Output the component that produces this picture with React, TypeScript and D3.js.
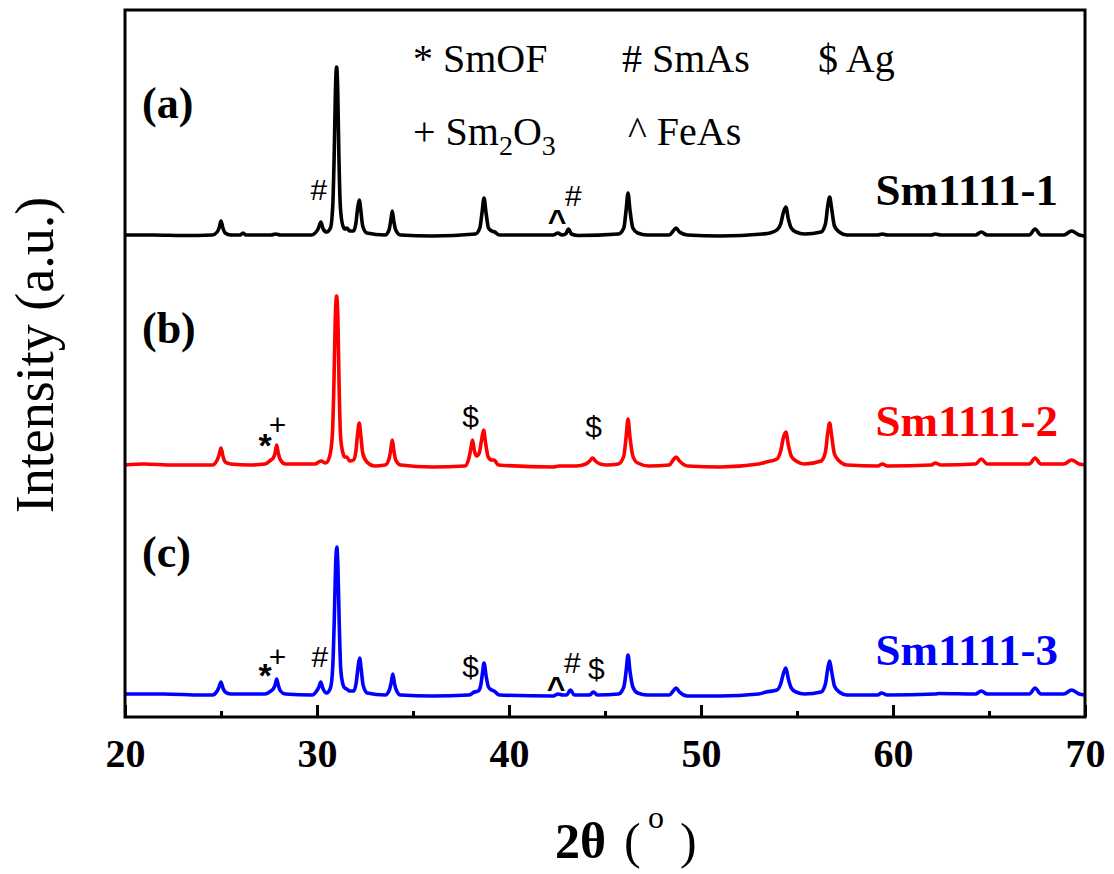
import React, { useEffect, useRef } from "react";
import * as d3 from "d3";

// ---- data (2θ in degrees, intensity above each pattern's own baseline, a.u.) ----
const seriesNames = ["Sm1111-1", "Sm1111-2", "Sm1111-3"];
const seriesColors = ["#000000", "#ff0000", "#0000ff"];
const panelLetters = ["(a)", "(b)", "(c)"];
const seriesOffsets = [481, 252, 22];

const seriesA: [number, number][] = [
  [20, 1], [21.5, 1], [23, 0.5], [24.55, 1], [24.8, 4], [24.9, 8], [25.0, 15], [25.1, 8], [25.22, 3], [25.5, 1],
  [26.0, 1], [26.15, 3], [26.3, 1], [27.6, 1], [27.85, 2], [28.1, 1], [29.7, 1],
  [29.95, 4], [30.08, 8], [30.2, 14], [30.32, 7], [30.5, 4], [30.7, 8], [30.82, 30], [30.9, 85], [30.96, 145],
  [31.02, 169], [31.08, 145], [31.14, 80], [31.22, 28], [31.35, 10], [31.45, 7], [31.55, 8], [31.7, 5],
  [31.9, 5], [32.02, 12], [32.12, 28], [32.2, 36], [32.28, 26], [32.38, 10], [32.6, 3], [33.55, 1], [33.75, 6], [33.84, 15],
  [33.92, 25], [34.0, 15], [34.1, 6], [34.35, 1], [36, 0], [38.25, 2], [38.48, 8], [38.6, 24], [38.7, 38], [38.8, 24],
  [38.93, 8], [39.1, 5], [39.25, 4], [39.5, 1], [42.3, 1], [42.55, 3], [42.75, 1], [42.95, 2],
  [43.1, 7], [43.25, 2], [43.6, 0.5], [45.7, 2], [45.98, 8], [46.1, 26], [46.2, 43], [46.3, 26],
  [46.45, 8], [46.7, 3], [47.2, 1], [48.35, 1], [48.55, 5], [48.7, 8], [48.88, 4], [49.3, 1],
  [51, 0], [53.2, 2], [53.6, 3], [53.95, 6], [54.15, 12], [54.3, 24], [54.42, 29], [54.55, 17], [54.7, 8], [54.95, 4],
  [55.4, 2], [56.25, 4], [56.48, 12], [56.6, 30], [56.7, 39], [56.8, 28], [56.95, 10], [57.2, 4], [57.6, 1],
  [59.2, 1], [59.45, 2], [59.7, 1], [62.0, 1], [62.2, 2], [62.5, 1], [64.3, 1], [64.6, 4],
  [64.9, 1], [67.1, 1], [67.4, 7], [67.7, 1], [68.9, 1], [69.3, 5], [69.7, 1], [70, 0],
];

const seriesB: [number, number][] = [
  [20, 0], [21, 1], [22.5, 0], [24.55, 0], [24.8, 5], [24.9, 10], [25.0, 17], [25.1, 9], [25.22, 3], [25.5, 1],
  [26.5, 0], [27.3, 1], [27.6, 5], [27.72, 7], [27.82, 12], [27.9, 20], [27.98, 12], [28.1, 5], [28.35, 1],
  [29.9, 1], [30.2, 4], [30.45, 2], [30.65, 8], [30.8, 30], [30.88, 80], [30.95, 145], [31.02, 169],
  [31.09, 145], [31.15, 80], [31.23, 28], [31.35, 12], [31.45, 8], [31.55, 8], [31.7, 4], [31.9, 5],
  [32.02, 13], [32.12, 32], [32.2, 42], [32.28, 30], [32.38, 12], [32.6, 3], [33.0, -1], [33.55, 0], [33.75, 6], [33.84, 15],
  [33.92, 25], [34.0, 15], [34.1, 5], [34.35, 0], [36, -2], [37.7, -1], [37.9, 6], [38.0, 15], [38.1, 25],
  [38.2, 14], [38.32, 9], [38.45, 12], [38.58, 26], [38.68, 35], [38.78, 22], [38.92, 8], [39.1, 5], [39.22, 5],
  [39.45, 0], [42.3, -2], [42.6, -1], [43.5, -1], [44.0, 1], [44.2, 4], [44.35, 7], [44.5, 4], [44.75, 1],
  [45.1, 0], [45.7, 1], [45.98, 9], [46.1, 28], [46.2, 46], [46.3, 28], [46.45, 9], [46.7, 2], [47.3, -1],
  [48.35, 0], [48.55, 5], [48.7, 8], [48.88, 4], [49.3, -1], [51, -2], [53.0, 1], [53.4, 3],
  [53.95, 6], [54.15, 14], [54.3, 28], [54.42, 33], [54.55, 20], [54.7, 9], [54.95, 4], [55.4, 1], [56.25, 4],
  [56.48, 13], [56.6, 32], [56.7, 42], [56.8, 30], [56.95, 11], [57.2, 4], [57.6, 0], [59.2, -1], [59.45, 1],
  [59.7, -1], [62.0, 0], [62.2, 2], [62.5, 0], [64.3, 1], [64.6, 6], [64.9, 1], [67.1, 1],
  [67.4, 7], [67.7, 1], [68.9, 1], [69.3, 5], [69.7, 1], [70, 0],
];

const seriesC: [number, number][] = [
  [20, 1], [22, 1], [24, 0], [24.55, 0], [24.8, 4], [24.9, 8], [25.0, 13], [25.1, 7], [25.22, 3], [25.5, 1],
  [26.2, 1], [27.3, 1], [27.6, 4], [27.72, 6], [27.82, 10], [27.9, 16], [27.98, 10], [28.1, 4], [28.35, 1],
  [29.75, 0], [29.98, 4], [30.1, 8], [30.2, 13], [30.3, 7], [30.5, 2], [30.7, 7], [30.82, 28], [30.9, 75],
  [30.97, 130], [31.03, 148], [31.09, 128], [31.16, 70], [31.24, 25], [31.36, 10], [31.45, 7], [31.55, 6],
  [31.7, 4], [31.92, 4], [32.04, 12], [32.14, 28], [32.22, 37], [32.3, 26], [32.4, 10], [32.62, 2], [33.55, 0],
  [33.77, 5], [33.87, 13], [33.95, 21], [34.03, 12], [34.13, 5], [34.35, 0], [36, -1], [37.9, 0], [38.2, 3], [38.4, 4],
  [38.52, 9], [38.62, 22], [38.7, 32], [38.8, 20], [38.93, 8], [39.1, 5], [39.22, 4], [39.5, 0], [42.3, -1],
  [42.55, 1], [42.8, 0], [43.0, 0], [43.2, 5], [43.4, 0], [44.2, 0], [44.4, 3], [44.6, 0],
  [45.7, 1], [45.98, 8], [46.1, 24], [46.2, 40], [46.3, 24], [46.45, 8], [46.7, 2], [47.2, 0], [48.35, 0],
  [48.55, 4], [48.7, 7], [48.88, 3], [49.3, -1], [51, -1], [53.0, 1], [53.4, 3], [53.95, 5],
  [54.15, 11], [54.3, 22], [54.42, 27], [54.55, 16], [54.7, 7], [54.95, 3], [55.4, 1], [56.25, 3], [56.48, 11],
  [56.6, 26], [56.7, 34], [56.8, 24], [56.95, 9], [57.2, 3], [57.6, 0], [59.2, 0], [59.4, 2], [59.7, 0],
  [62.2, 1], [62.4, 1.5], [64.3, 1], [64.6, 4], [64.9, 1], [67.1, 1], [67.4, 7], [67.7, 1],
  [68.9, 1], [69.3, 5], [69.7, 1], [70, 0],
];

const allSeries = [seriesA, seriesB, seriesC];

// phase markers: [series index, 2θ, level above baseline, symbol]
const markerSeries = [0, 0, 0, 1, 1, 1, 1, 2, 2, 2, 2, 2, 2, 2];
const markerTheta = [30.1, 42.5, 43.35, 27.3, 27.95, 38.0, 44.4, 27.3, 27.95, 30.15, 38.0, 42.45, 43.3, 44.55];
const markerLevel = [36, 4, 30, 8, 30, 38, 28, 8, 28, 28, 18, -4, 22, 16];
const markerSymbols = ["#", "^", "#", "*", "+", "$", "$", "*", "+", "#", "$", "^", "#", "$"];

const majorTicks = [20, 30, 40, 50, 60, 70];
const minorTicks = [25, 35, 45, 55, 65];

const W = 1114;
const H = 874;
const M = { left: 125, right: 1085, top: 10, bottom: 717 };

const SERIF = "'Liberation Serif', 'Times New Roman', Times, serif";
const SANS = "'Liberation Sans', Arial, Helvetica, sans-serif";

export default function App() {
  const axisRef = useRef<SVGGElement>(null);
  const minorRef = useRef<SVGGElement>(null);

  const x = d3.scaleLinear().domain([20, 70]).range([M.left, M.right]);
  const y = d3.scaleLinear().domain([0, 707]).range([M.bottom, M.top]);

  useEffect(() => {
    if (axisRef.current) {
      const g = d3.select(axisRef.current);
      g.call(
        d3.axisBottom(x).tickValues(majorTicks).tickSize(-12).tickPadding(22).tickFormat(d3.format("d")) as any
      );
      g.attr("font-family", null).attr("font-size", null);
      g.select(".domain").remove();
      g.selectAll(".tick line").attr("stroke", "#000").attr("stroke-width", 3);
      g.selectAll(".tick text")
        .style("font-family", SERIF)
        .style("font-weight", "bold")
        .style("font-size", "40px")
        .attr("fill", "#000");
    }
    if (minorRef.current) {
      const g = d3.select(minorRef.current);
      g.call(d3.axisBottom(x).tickValues(minorTicks).tickSize(-6).tickFormat(() => "") as any);
      g.select(".domain").remove();
      g.selectAll(".tick line").attr("stroke", "#000").attr("stroke-width", 3);
    }
  }, []);

  const labelBaselines = [205, 436, 665];
  const panelBaselines = [118, 343, 567];

  return (
    <svg
      width={W}
      height={H}
      style={{ position: "absolute", left: 0, top: 0, background: "#fff" }}
    >
      <rect x={0} y={0} width={W} height={H} fill="#fff" />
      <defs>
        <clipPath id="plotclip">
          <rect x={M.left} y={M.top} width={M.right - M.left} height={M.bottom - M.top} />
        </clipPath>
      </defs>
      <g clipPath="url(#plotclip)">
        {allSeries.map((s, i) => {
          const line = d3
            .line<[number, number]>()
            .x((d) => x(d[0]))
            .y((d) => y(d[1] + seriesOffsets[i]))
            .curve(d3.curveMonotoneX);
          return (
            <path
              key={i}
              d={line(s) || ""}
              fill="none"
              stroke={seriesColors[i]}
              strokeWidth={3.6}
              strokeLinejoin="round"
            />
          );
        })}
      </g>

      {/* frame */}
      <rect
        x={M.left}
        y={M.top}
        width={M.right - M.left}
        height={M.bottom - M.top}
        fill="none"
        stroke="#000"
        strokeWidth={3}
      />
      <g ref={axisRef} transform={`translate(0,${M.bottom})`} />
      <g ref={minorRef} transform={`translate(0,${M.bottom})`} />

      {/* markers */}
      {markerSymbols.map((sym, k) => {
        const si = markerSeries[k];
        const isCaret = sym === "^";
        const isStar = sym === "*";
        return (
          <text
            key={k}
            x={x(markerTheta[k])}
            y={y(markerLevel[k] + seriesOffsets[si])}
            textAnchor="middle"
            style={{
              fontFamily: SANS,
              fontSize: isCaret ? 32 : isStar ? 34 : 30,
              fontWeight: isCaret || isStar ? "bold" : "normal",
            }}
            fill="#000"
          >
            {sym}
          </text>
        );
      })}

      {/* legend of phases */}
      <g style={{ fontFamily: SERIF, fontSize: 40 }} fill="#000">
        <text x={413} y={72}>* SmOF</text>
        <text x={622} y={72}># SmAs</text>
        <text x={818} y={72}>$ Ag</text>
        <text x={413} y={145}>
          + Sm<tspan style={{ fontSize: 28 }} dy={10}>2</tspan>
          <tspan style={{ fontSize: 40 }} dy={-10}>O</tspan>
          <tspan style={{ fontSize: 28 }} dy={10}>3</tspan>
        </text>
        <text x={628} y={145}>^ FeAs</text>
      </g>

      {/* panel letters and series labels */}
      {seriesNames.map((n, i) => (
        <g key={n}>
          <text
            x={142}
            y={panelBaselines[i]}
            style={{ fontFamily: SERIF, fontWeight: "bold", fontSize: 44 }}
            fill="#000"
          >
            {panelLetters[i]}
          </text>
          <text
            x={1058}
            y={labelBaselines[i]}
            textAnchor="end"
            style={{ fontFamily: SERIF, fontWeight: "bold", fontSize: 45 }}
            fill={seriesColors[i]}
          >
            {n}
          </text>
        </g>
      ))}

      {/* axis titles */}
      <text
        transform={`translate(53, 355) rotate(-90)`}
        textAnchor="middle"
        style={{ fontFamily: SERIF, fontSize: 54 }}
        fill="#000"
      >
        Intensity (a.u.)
      </text>
      <g style={{ fontFamily: SERIF }} fill="#000">
        <text x={555} y={858} style={{ fontSize: 50, fontWeight: "bold" }}>2θ</text>
        <text x={624} y={858} style={{ fontSize: 50 }}>(</text>
        <text x={648} y={828} style={{ fontSize: 32 }}>o</text>
        <text x={680} y={858} style={{ fontSize: 50 }}>)</text>
      </g>
    </svg>
  );
}
